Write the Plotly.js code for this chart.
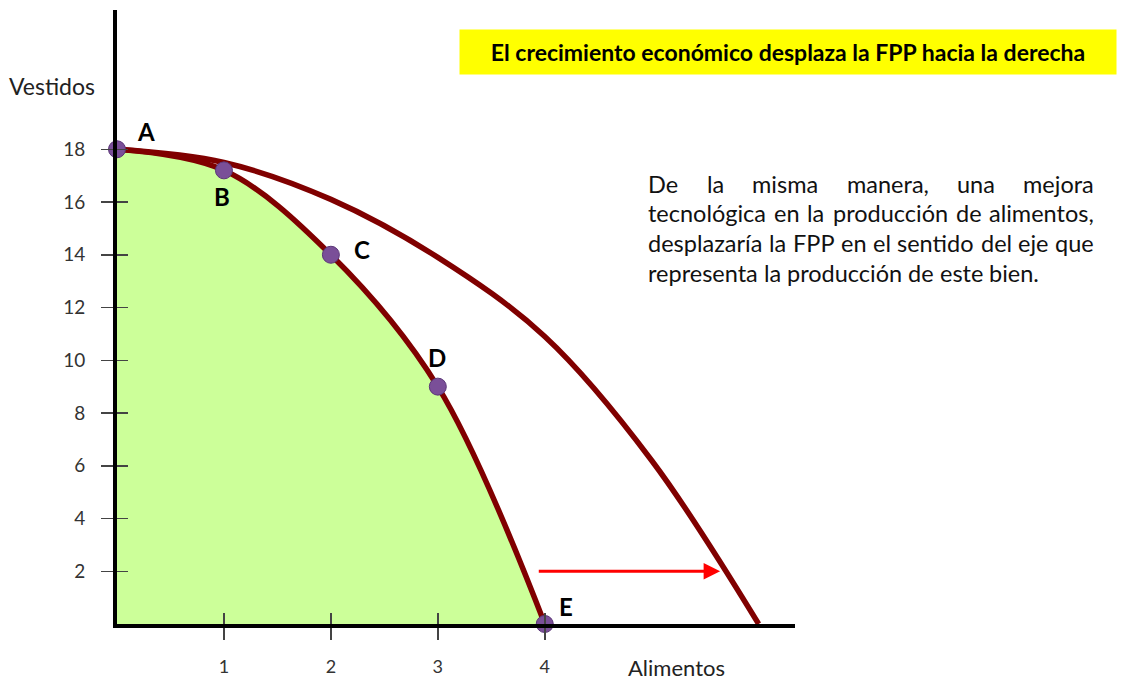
<!DOCTYPE html>
<html>
<head>
<meta charset="utf-8">
<script src="https://cdn.plot.ly/plotly-3.0.1.min.js"></script>
<style>
  body { margin: 0; background: #fff; }
  #chart { width: 1131px; height: 681px; }
</style>
</head>
<body>
<div id="chart"></div>
<script>
// frontera inicial (puntos A-E)
const pointLabels = ['A', 'B', 'C', 'D', 'E'];
const alimentos = [0, 1, 2, 3, 4];
const vestidos = [18, 17.2, 14, 9, 0];

// frontera desplazada por el crecimiento
const nuevaAlimentos = [0, 1, 2, 3, 4, 5, 6];
const nuevaVestidos = [18, 17.5, 16.1, 13.9, 10.9, 6.2, 0];

const xTicks = [1, 2, 3, 4];
const yTicks = [2, 4, 6, 8, 10, 12, 14, 16, 18];

// flecha roja: de x=3.93 a x=5.64 a la altura y=2
const arrowFrom = 3.93;
const arrowTo = 5.64;
const arrowLevel = 2;

const titleText = 'El crecimiento económico desplaza la FPP hacia la derecha';
const bodyLines = [
    'De la misma manera, una mejora',
    'tecnológica en la producción de alimentos,',
    'desplazaría la FPP en el sentido del eje que',
    'representa la producción de este bien.'
];

const font = 'Lato, "Liberation Sans", sans-serif';
const W = 1131, H = 681;
const margin = { l: 117, r: 336, t: 10, b: 57 };
const plotW = W - margin.l - margin.r;
const plotH = H - margin.t - margin.b;
const px2paperX = px => (px - margin.l) / plotW;
const px2paperY = py => 1 - (py - margin.t) / plotH;

const xRange = [0, 6.34];
const yRange = [0, 23.28];

// pixel offsets of the letters relative to their points
const labelShift = [[29, 18], [-2, -26], [31, 5], [-1, 29], [21, 18]];

const frontera = {
    x: alimentos, y: vestidos, type: 'scatter', mode: 'lines',
    line: { color: '#800000', width: 5.5, shape: 'spline', smoothing: 1 },
    fill: 'tozeroy', fillcolor: '#ccff99', hoverinfo: 'skip'
};
const nuevaFrontera = {
    x: nuevaAlimentos, y: nuevaVestidos, type: 'scatter', mode: 'lines',
    line: { color: '#800000', width: 5.5, shape: 'spline', smoothing: 1 },
    hoverinfo: 'skip'
};
const puntos = {
    x: alimentos, y: vestidos, type: 'scatter', mode: 'markers',
    marker: { size: 17, color: '#7a4f98', line: { color: '#5a3577', width: 1 } },
    cliponaxis: false
};
const tickOverlay = { x: [], y: [], type: 'scatter', xaxis: 'x2', yaxis: 'y2', hoverinfo: 'skip' };

const annotations = [];

pointLabels.forEach((lab, i) => {
    annotations.push({
        x: alimentos[i], y: vestidos[i], xref: 'x', yref: 'y',
        xanchor: 'center', yanchor: 'middle',
        text: '<b>' + lab + '</b>', showarrow: false,
        xshift: labelShift[i][0], yshift: labelShift[i][1],
        font: { family: font, size: 24, color: '#000' }
    });
});

annotations.push({
    x: arrowTo, y: arrowLevel, ax: arrowFrom, ay: arrowLevel,
    xref: 'x', yref: 'y', axref: 'x', ayref: 'y',
    text: '', showarrow: true, arrowhead: 2, arrowsize: 1.1,
    arrowwidth: 3, arrowcolor: '#ff0000'
});

// axis titles
annotations.push({
    x: px2paperX(52), y: px2paperY(86), xref: 'paper', yref: 'paper',
    xanchor: 'center', yanchor: 'middle',
    text: 'Vestidos', showarrow: false, font: { family: font, size: 23, color: '#222' }
});
annotations.push({
    x: px2paperX(676), y: px2paperY(667), xref: 'paper', yref: 'paper',
    xanchor: 'center', yanchor: 'middle',
    text: 'Alimentos', showarrow: false, font: { family: font, size: 22, color: '#222' }
});

// yellow title box
annotations.push({
    x: px2paperX(788), y: px2paperY(52), xref: 'paper', yref: 'paper',
    xanchor: 'center', yanchor: 'middle',
    text: '<b>' + titleText + '</b>', showarrow: false,
    width: 656, height: 44, borderpad: 0, bgcolor: '#ffff00',
    font: { family: font, size: 23, color: '#000' }
});

// justified paragraph: words laid out with canvas measurement
const bodySize = 23.5;
const ctx = document.createElement('canvas').getContext('2d');
ctx.font = bodySize + 'px Lato';
const spaceW = ctx.measureText(' ').width;
const textLeft = 647, textRight = 1093;
const lineY = [184, 213, 243, 273];
bodyLines.forEach((line, li) => {
    const words = line.split(' ');
    const last = li === bodyLines.length - 1;
    const widths = words.map(w => ctx.measureText(w).width);
    const total = widths.reduce((s, w) => s + w, 0);
    let gap = last ? spaceW : (textRight - textLeft - total) / (words.length - 1);
    gap = Math.max(gap, spaceW * 0.6);
    let cx = textLeft;
    words.forEach((w, wi) => {
        annotations.push({
            x: px2paperX(cx), y: px2paperY(lineY[li]), xref: 'paper', yref: 'paper',
            xanchor: 'left', yanchor: 'middle', text: w, showarrow: false,
            borderpad: 0, font: { family: font, size: bodySize, color: '#111' }
        });
        cx += widths[wi] + gap;
    });
});

const layout = {
    width: W, height: H,
    margin: margin,
    paper_bgcolor: '#fff', plot_bgcolor: '#fff',
    showlegend: false,
    xaxis: {
        range: xRange, showline: true, linewidth: 4, linecolor: '#000',
        ticks: 'outside', ticklen: 12, tickwidth: 1.5, tickcolor: '#444',
        tickvals: xTicks, ticktext: xTicks.map(String),
        showgrid: false, zeroline: false, ticklabelstandoff: 11,
        tickfont: { family: font, size: 18, color: '#333' }, fixedrange: true
    },
    yaxis: {
        range: yRange, showline: true, linewidth: 4, linecolor: '#000',
        ticks: 'outside', ticklen: 12, tickwidth: 1.5, tickcolor: '#444',
        tickvals: yTicks, ticktext: yTicks.map(String),
        showgrid: false, zeroline: false, ticklabelstandoff: 12,
        tickfont: { family: font, size: 19, color: '#333' }, fixedrange: true
    },
    xaxis2: {
        overlaying: 'x', anchor: 'y2', side: 'bottom', range: xRange,
        ticks: 'inside', ticklen: 11, tickwidth: 1.5, tickcolor: '#444',
        tickvals: xTicks, showticklabels: false,
        showgrid: false, zeroline: false, showline: false, fixedrange: true
    },
    yaxis2: {
        overlaying: 'y', anchor: 'x2', side: 'left', range: yRange,
        ticks: 'inside', ticklen: 11, tickwidth: 1.5, tickcolor: '#444',
        tickvals: yTicks, showticklabels: false,
        showgrid: false, zeroline: false, showline: false, fixedrange: true
    },
    annotations: annotations
};

Plotly.newPlot('chart', [tickOverlay, frontera, nuevaFrontera, puntos], layout,
    { displayModeBar: false, staticPlot: true });
</script>
</body>
</html>
